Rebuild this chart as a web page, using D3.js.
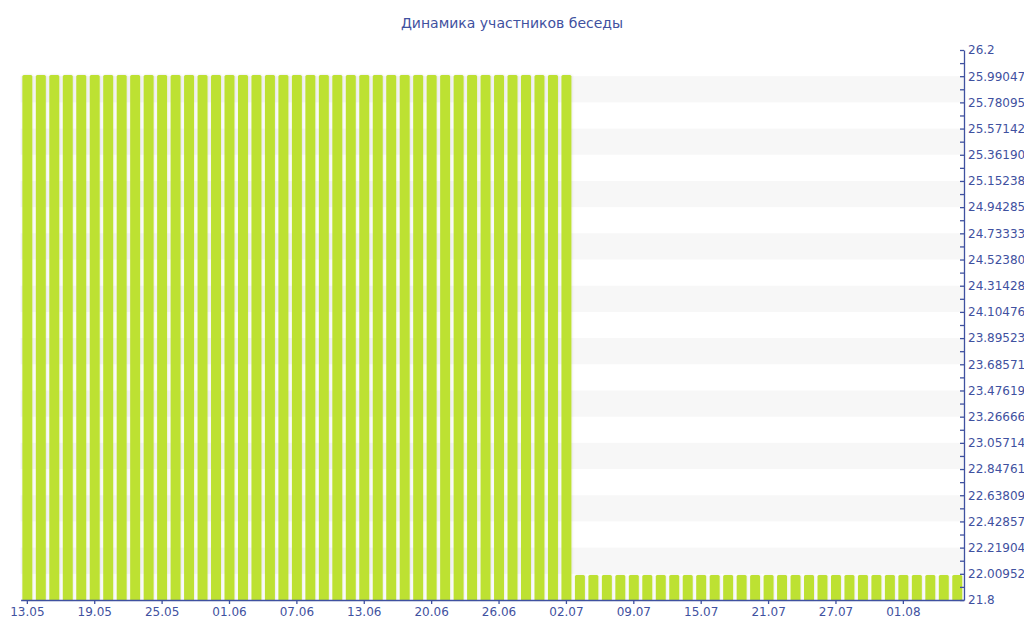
<!DOCTYPE html>
<html>
<head>
<meta charset="utf-8">
<script src="https://cdn.jsdelivr.net/npm/d3@7"></script>
<style>
  body { margin: 0; background: #fff; overflow: hidden; }
  svg { display: block; font-family: "DejaVu Sans", Verdana, sans-serif; }
</style>
</head>
<body>
<div class="members-chart"></div>
<script>
const chartTitle = 'Динамика участников беседы';

// number of chat members per reading (70 bars)
const members = [
  26, 26, 26, 26, 26, 26, 26, 26, 26, 26,
  26, 26, 26, 26, 26, 26, 26, 26, 26, 26,
  26, 26, 26, 26, 26, 26, 26, 26, 26, 26,
  26, 26, 26, 26, 26, 26, 26, 26, 26, 26,
  26, 22, 22, 22, 22, 22, 22, 22, 22, 22,
  22, 22, 22, 22, 22, 22, 22, 22, 22, 22,
  22, 22, 22, 22, 22, 22, 22, 22, 22, 22
];

// date labels, shown on every 5th bar
const xTickIndex = [0, 5, 10, 15, 20, 25, 30, 35, 40, 45, 50, 55, 60, 65];
const xTickLabels = ['13.05', '19.05', '25.05', '01.06', '07.06', '13.06', '20.06',
                     '26.06', '02.07', '09.07', '15.07', '21.07', '27.07', '01.08'];

const yDomain = [21.8, 26.2];
const yTicks = [21.8, 22.00952380952381, 22.21904761904762, 22.42857142857143,
  22.63809523809524, 22.84761904761905, 23.057142857142857, 23.266666666666666,
  23.476190476190474, 23.685714285714287, 23.895238095238096, 24.104761904761904,
  24.314285714285713, 24.523809523809526, 24.733333333333334, 24.942857142857143,
  25.152380952380952, 25.36190476190476, 25.571428571428573, 25.78095238095238,
  25.99047619047619, 26.2];

const svgwidth = 1024;
const svgheight = 640;
const plotLeft = 20.6, plotRight = 964, plotTop = 50, plotBottom = 600;
const axisColor = '#3f51a0';

const svg = d3.select('.members-chart').append('svg')
    .attr('width', svgwidth)
    .attr('height', svgheight);

const defs = svg.append('defs');
const shadow = defs.append('filter').attr('id', 'barShadow')
    .attr('x', '-30%').attr('y', '-5%').attr('width', '160%').attr('height', '110%');
shadow.append('feDropShadow')
    .attr('dx', 0.5).attr('dy', 0)
    .attr('stdDeviation', 1)
    .attr('flood-color', '#000')
    .attr('flood-opacity', 0.12);

const x = d3.scaleBand()
    .domain(d3.range(members.length))
    .range([plotLeft, plotRight])
    .paddingInner(0.26)
    .paddingOuter(0.13);

const y = d3.scaleLinear()
    .domain(yDomain)
    .range([plotBottom, plotTop]);

// alternating stripes
const stripes = d3.pairs(yTicks).filter((d, i) => i % 2 === 1);
svg.append('g').selectAll('rect')
    .data(stripes)
    .enter()
    .append('rect')
    .attr('x', plotLeft)
    .attr('width', plotRight - plotLeft)
    .attr('y', d => y(d[1]))
    .attr('height', d => y(d[0]) - y(d[1]))
    .attr('fill', '#f7f7f7');

// title
svg.append('text')
    .attr('x', svgwidth / 2)
    .attr('y', 28)
    .attr('text-anchor', 'middle')
    .attr('font-size', 14)
    .attr('fill', axisColor)
    .text(chartTitle);

// bars with slightly rounded tops
const r = 1.5;
svg.append('g').selectAll('path')
    .data(members)
    .enter()
    .append('path')
    .attr('class', 'bars')
    .attr('d', (d, i) => {
        const x0 = x(i), w = x.bandwidth(), y0 = y(d), y1 = y(yDomain[0]);
        return `M${x0},${y1}V${y0 + r}Q${x0},${y0} ${x0 + r},${y0}H${x0 + w - r}Q${x0 + w},${y0} ${x0 + w},${y0 + r}V${y1}Z`;
    })
    .attr('fill', '#bde131')
    .attr('filter', 'url(#barShadow)');

// x axis
svg.append('g')
    .attr('transform', `translate(0,${plotBottom})`)
    .call(d3.axisBottom(x)
        .tickValues(xTickIndex)
        .tickFormat((d, i) => xTickLabels[i])
        .tickSizeInner(4)
        .tickSizeOuter(0)
        .tickPadding(3));

// y axis on the right, ticks pointing into the plot
const minor = d3.pairs(yTicks).map(p => (p[0] + p[1]) / 2);
svg.append('g')
    .attr('transform', `translate(${plotRight},0)`)
    .call(d3.axisRight(y).tickValues(minor).tickFormat('').tickSizeInner(-4).tickSizeOuter(0))
    .call(g => g.select('.domain').remove());

svg.append('g')
    .attr('transform', `translate(${plotRight},0)`)
    .call(d3.axisRight(y)
        .tickValues(yTicks)
        .tickFormat(d => String(d))
        .tickSizeInner(-4)
        .tickSizeOuter(0)
        .tickPadding(4));

svg.selectAll('.domain, .tick line')
    .attr('stroke', axisColor)
    .attr('stroke-width', 1.3);
svg.selectAll('.tick text')
    .attr('fill', axisColor)
    .attr('font-size', 12)
    .attr('font-family', '"DejaVu Sans", Verdana, sans-serif');
</script>
</body>
</html>
